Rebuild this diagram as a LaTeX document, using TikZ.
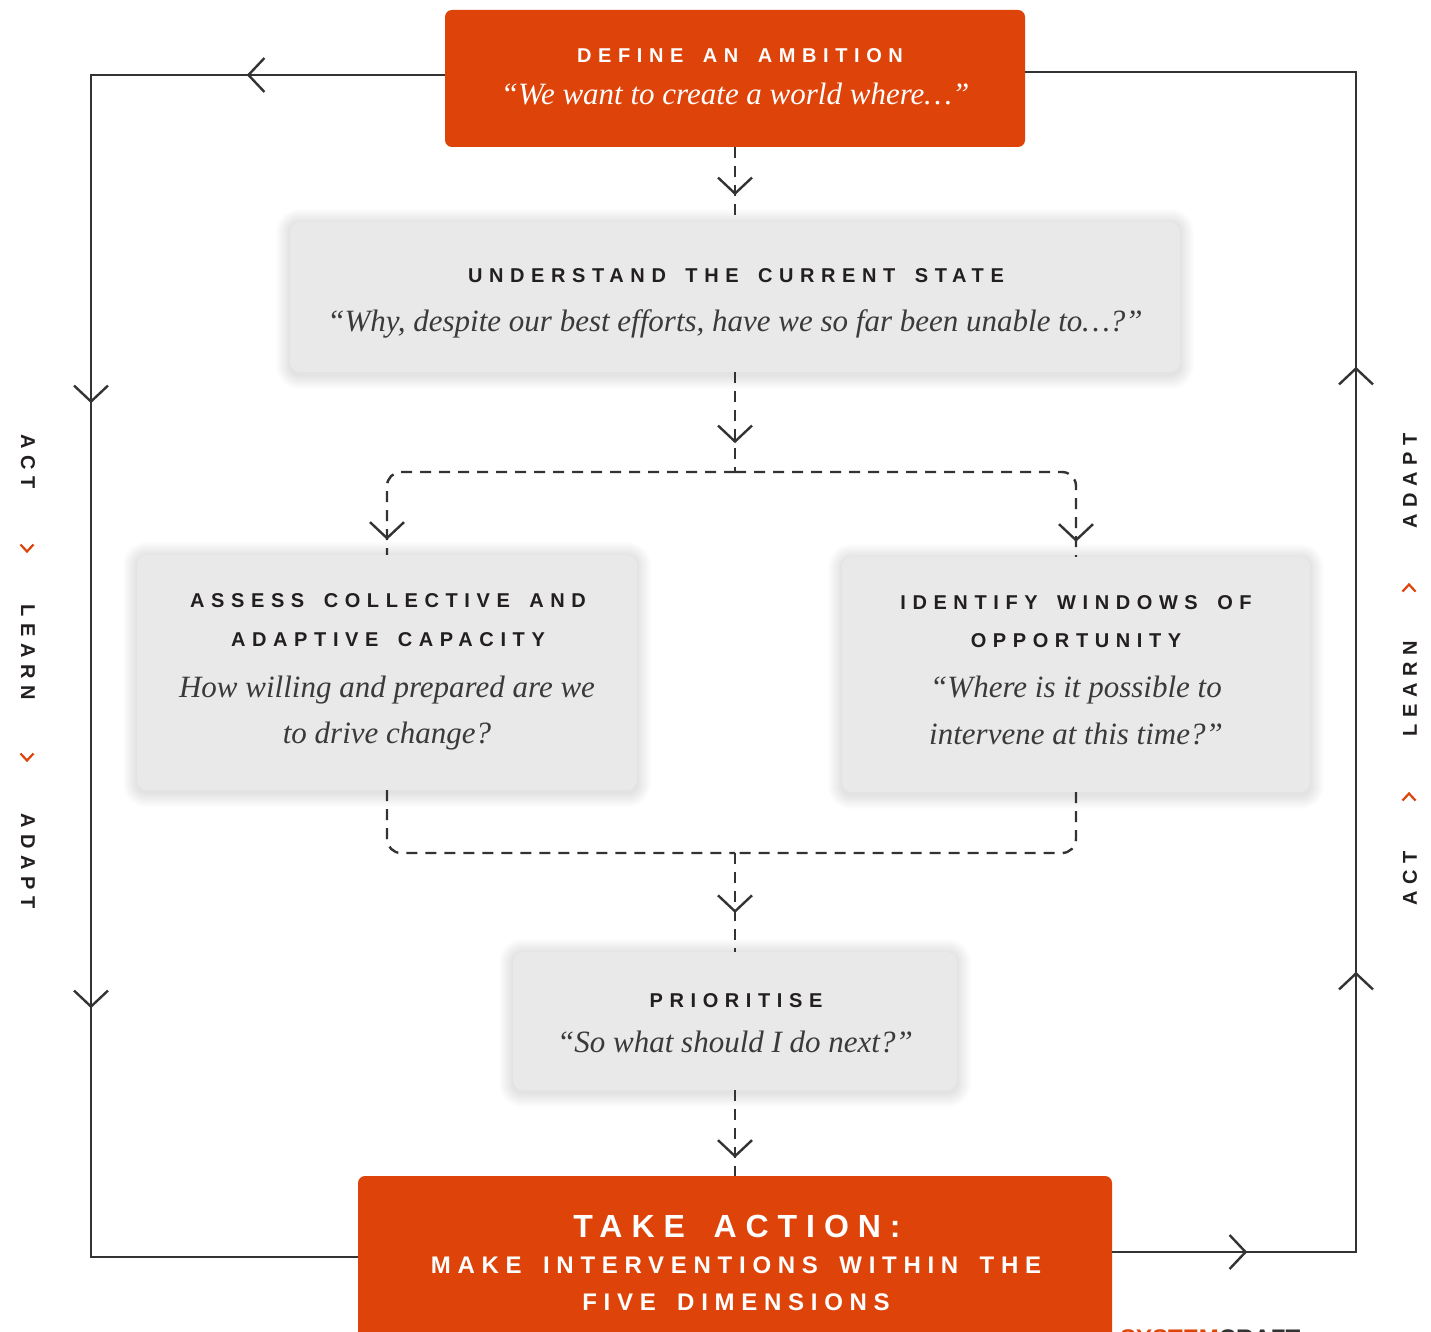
\documentclass[tikz,border=0pt]{standalone}
\usepackage{fontspec}
\setmainfont{Liberation Serif}
\setsansfont{Liberation Sans}
\newfontfamily\spacedsans{Liberation Sans}[LetterSpace=33,WordSpace=1.6]
\newfontfamily\actionsans{Liberation Sans}[LetterSpace=28,WordSpace=1.6]
\usetikzlibrary{arrows.meta,decorations.markings,calc}

\pgfdeclarelayer{paper}
\pgfdeclarelayer{shade}
\pgfsetlayers{paper,shade,main}

\definecolor{brand}{RGB}{222,67,9}
\definecolor{ink}{RGB}{51,51,51}
\definecolor{panel}{RGB}{233,233,233}
\definecolor{headink}{RGB}{35,31,32}
\definecolor{quoteink}{RGB}{58,58,58}

\tikzset{
  vtip/.tip={Straight Barb[length=16pt,width=34pt]},
  flowline/.style={draw=ink, line width=2.4pt},
  dashline/.style={draw=ink, line width=2.4pt, dash pattern=on 11pt off 8pt},
  tipat/.style={postaction={decorate},
    decoration={markings, mark=at position #1 with {\arrow{vtip}}}},
  orangebox/.style={fill=brand, rounded corners=7pt, inner sep=0pt},
  panelbox/.style={fill=panel, rounded corners=10pt, inner sep=0pt},
  headtext/.style={font=\spacedsans\bfseries\fontsize{20}{24}\selectfont,
    text=headink, anchor=base, inner sep=0pt},
  quotetext/.style={font=\itshape\fontsize{31}{36}\selectfont,
    text=quoteink, anchor=base, inner sep=0pt},
  sidetext/.style={font=\spacedsans\bfseries\fontsize{20}{20}\selectfont,
    text=headink, inner sep=0pt},
  chevdown/.pic={\draw[brand, line width=2.2pt] (-6.5,-3.5) -- (0,3.5) -- (6.5,-3.5);},
  chevup/.pic={\draw[brand, line width=2.2pt] (-6.5,3.5) -- (0,-3.5) -- (6.5,3.5);},
}

\begin{document}
\begin{tikzpicture}[x=1pt,y=-1pt]
\useasboundingbox (0,0) rectangle (1431,1332);
\begin{pgfonlayer}{paper}
\fill[white] (0,0) rectangle (1431,1332);
\end{pgfonlayer}
\begin{scope}
\clip (0,0) rectangle (1431,1332);

% ---- boxes ----
\node[orangebox, minimum width=580pt, minimum height=137pt] (def) at (735,78.5) {};
\node[panelbox, minimum width=890pt, minimum height=150pt] (und) at (735,297) {};
\node[panelbox, minimum width=500pt, minimum height=235pt] (ass) at (387,672.5) {};
\node[panelbox, minimum width=468pt, minimum height=235pt] (idw) at (1076,674.5) {};
\node[panelbox, minimum width=444pt, minimum height=138pt] (pri) at (735,1021) {};
\node[orangebox, minimum width=754pt, minimum height=220pt] (act) at (735,1286) {};

% soft halo under the grey panels
\begin{pgfonlayer}{shade}
\foreach \b in {und,ass,idw,pri}{
  \foreach \i in {1,...,14}{
    \fill[black, opacity=0.008, rounded corners={(10+\i)*1pt}]
      ($(\b.south west)+(-\i,\i+3)$) rectangle ($(\b.north east)+(\i,1-\i)$);
  }
}
\end{pgfonlayer}

% ---- box texts ----
\node[headtext, text=white] (def-h) at (740,63) {DEFINE AN AMBITION};
\node[quotetext, text=white] (def-q) at (735,105) {“We want to create a world where…”};

\node[headtext] (und-h) at (736,282) {UNDERSTAND THE CURRENT STATE};
\node[quotetext] (und-q) at (735,331) {“Why, despite our best efforts, have we so far been unable to…?”};

\node[headtext] (ass-h1) at (388,607) {ASSESS COLLECTIVE AND};
\node[headtext] (ass-h2) at (388,646) {ADAPTIVE CAPACITY};
\node[quotetext] (ass-q1) at (387,697) {How willing and prepared are we};
\node[quotetext] (ass-q2) at (387,743) {to drive change?};

\node[headtext] (idw-h1) at (1076,609) {IDENTIFY WINDOWS OF};
\node[headtext] (idw-h2) at (1076,647) {OPPORTUNITY};
\node[quotetext] (idw-q1) at (1076,697) {“Where is it possible to};
\node[quotetext] (idw-q2) at (1076,744) {intervene at this time?”};

\node[headtext] (pri-h) at (736,1007) {PRIORITISE};
\node[quotetext] (pri-q) at (735,1052) {“So what should I do next?”};

\node[anchor=base, inner sep=0pt, text=white,
  font=\actionsans\bfseries\fontsize{32}{32}\selectfont] (act-h) at (737,1237) {TAKE ACTION:};
\node[anchor=base, inner sep=0pt, text=white,
  font=\actionsans\bfseries\fontsize{24}{24}\selectfont] (act-s1) at (736,1273) {MAKE INTERVENTIONS WITHIN THE};
\node[anchor=base, inner sep=0pt, text=white,
  font=\actionsans\bfseries\fontsize{24}{24}\selectfont] (act-s2) at (736,1310) {FIVE DIMENSIONS};

% ---- inner dashed flow ----
\coordinate (split) at (735,472);
\coordinate (merge) at (735,853);
\draw[dashline, tipat=48pt] (def.south) -- (und.north);
\draw[dashline, tipat=71pt] (und.south) -- (split);
\draw[dashline, rounded corners=14pt, tipat=-15pt] (split) -| (ass.north);
\draw[dashline, rounded corners=14pt, tipat=-15pt] (split) -| (idw.north);
\draw[dashline, rounded corners=14pt] (ass.south) |- (merge);
\draw[dashline, rounded corners=14pt] (idw.south) |- (merge);
\draw[dashline, tipat=60pt] (merge) -- (pri.north);
\draw[dashline, tipat=-18pt] (pri.south) -- (act.north);

% ---- outer loop ----
\coordinate (nw) at (91,75);
\coordinate (sw) at (91,1257);
\coordinate (ne) at (1356,72);
\coordinate (se) at (1356,1252);
\draw[flowline, postaction={decorate}, decoration={markings,
    mark=at position 198pt with {\arrow{vtip}},
    mark=at position 682pt with {\arrow{vtip}},
    mark=at position 1287pt with {\arrow{vtip}}}]
  (def.west |- nw) -- (nw) -- (sw) -- (act.west |- sw);
\draw[flowline, postaction={decorate}, decoration={markings,
    mark=at position 135pt with {\arrow{vtip}},
    mark=at position 524pt with {\arrow{vtip}},
    mark=at position 1129pt with {\arrow{vtip}}}]
  (act.east |- se) -- (se) -- (ne) -- (def.east |- ne);

% ---- cycle labels, left side ----
\node[sidetext, rotate=-90] (l-act) at (28,462) {ACT};
\pic at (27,548) {chevdown};
\node[sidetext, rotate=-90] (l-learn) at (28,652) {LEARN};
\pic at (27,757) {chevdown};
\node[sidetext, rotate=-90] (l-adapt) at (28,861) {ADAPT};

% ---- cycle labels, right side ----
\node[sidetext, rotate=90] (r-adapt) at (1410,481) {ADAPT};
\pic at (1409,588) {chevup};
\node[sidetext, rotate=90] (r-learn) at (1410,689) {LEARN};
\pic at (1409,797) {chevup};
\node[sidetext, rotate=90] (r-act) at (1410,878) {ACT};

% ---- wordmark at the lower edge ----
\node[anchor=base west, inner sep=0pt,
  font=\sffamily\bfseries\fontsize{24}{24}\selectfont] (mark) at (1120,1346)
  {\textcolor{brand}{SYSTEM}\textcolor{ink}{CRAFT}};
\end{scope}
\end{tikzpicture}
\end{document}
